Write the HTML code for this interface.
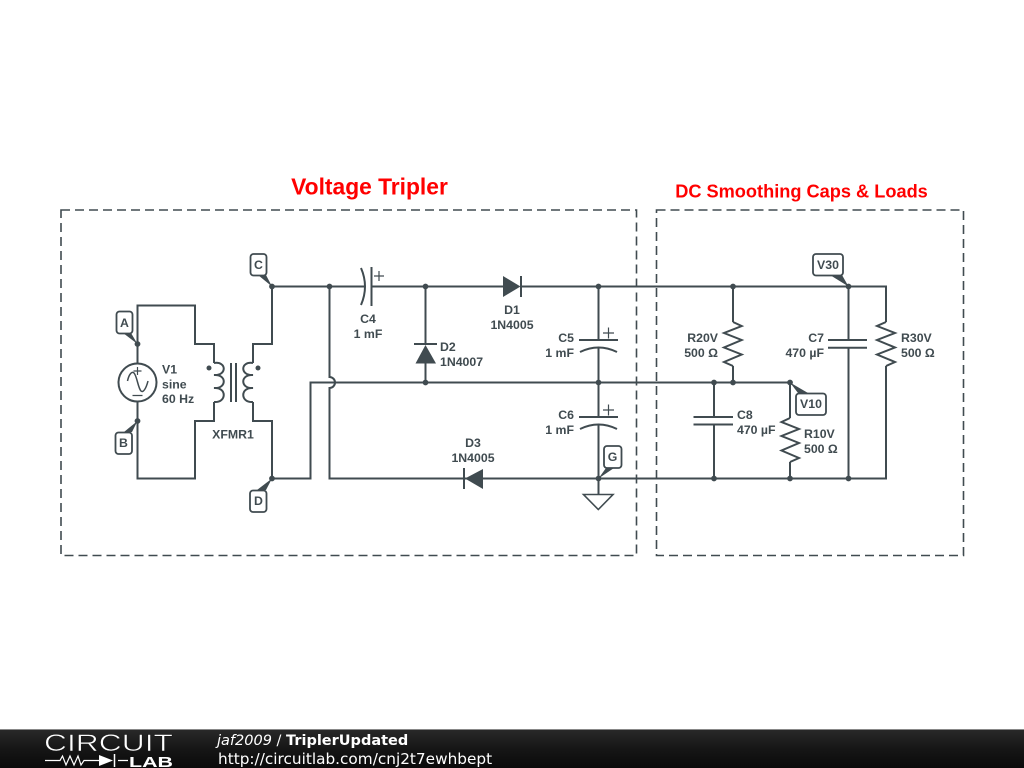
<!DOCTYPE html>
<html><head><meta charset="utf-8"><title>TriplerUpdated</title>
<style>html,body{margin:0;padding:0;background:#fff}svg{display:block}
.t{font:bold 12.3px "Liberation Sans",Arial,sans-serif;fill:#404b50}
.m{text-anchor:middle}.e{text-anchor:end}
.tag{font:bold 12.3px "Liberation Sans",Arial,sans-serif;fill:#404b50;text-anchor:middle}
</style></head><body>
<svg width="1024" height="768" viewBox="0 0 1024 768" xmlns="http://www.w3.org/2000/svg">
<defs><linearGradient id="g" x1="0" y1="0" x2="0" y2="1"><stop offset="0" stop-color="#2a2a2a"/><stop offset=".5" stop-color="#161616"/><stop offset="1" stop-color="#0a0a0a"/></linearGradient></defs>
<rect width="1024" height="768" fill="#fff"/>
<text x="369.500" y="194.500" text-anchor="middle" font-family="Liberation Sans" font-weight="bold" font-size="22.800" fill="#f00">Voltage Tripler</text>
<text x="801.500" y="197.500" text-anchor="middle" font-family="Liberation Sans" font-weight="bold" font-size="18.200" fill="#f00">DC Smoothing Caps &amp; Loads</text>
<g fill="none" stroke="#404b50" stroke-width="1.600" stroke-dasharray="9 5">
<rect x="61" y="210" width="575.500" height="345.500"/><rect x="656.500" y="210" width="307" height="345.500"/></g>
<g fill="none" stroke="#404b50" stroke-width="2">
<path d="M137.500 363V305.500H195V344H214V363M214 402V421H195V478.500H137.500V402"/>
<path d="M253 363V344H272V286.500H365M371 286.500H503M521 286.500H886V322M886 366V478.500H329.500V388A5.500 5.500 0 0 0 329.500 377V286.500"/>
<path d="M253 402V421H272V478.500H310.500V382.500H733M733 382.500H790V418M790 462V478.500"/>
<path d="M425.500 286.500V345M425.500 363V382.500"/>
<path d="M598.500 286.500V340M598.500 348V417M598.500 425V494"/>
<path d="M733 286.500V322M733 366V382.500"/>
<path d="M848.500 286.500V340M848.500 348V478.500"/>
<path d="M714 382.500V417M714 424.500V478.500"/>
<circle cx="137.500" cy="382.500" r="19"/>
<path d="M127.500 381C129 374 132 371 134 373C137 376 138 388 141 391C143 393 146 389 148 381" stroke-width="1.500"/>
<path d="M137.500 367v8M133.500 371h8M132.500 395.500h10" stroke-width="1.200"/>
<path d="M214 363C227 361 227 376 214 375C227 374 227 389 214 388C227 387 227 403 214 402"/>
<path d="M253 363C240 361 240 376 253 375C240 374 240 389 253 388C240 387 240 403 253 402"/>
<path d="M231 363V402M236 363V402"/>
<path d="M361 268Q369 286.500 361 305M371.500 267V306"/>
<path d="M374 276h10M379 271v10" stroke-width="1.200"/>
<path d="M521 276V297M414 344H437M464 468V489"/>
<path d="M579 340H618M580 352Q598.500 343 617 352M579 417H618M580 429Q598.500 420 617 429"/>
<path d="M603 333h11M608.500 327.500v11M603 410h11M608.500 404.500v11" stroke-width="1.200"/>
<path d="M583.500 494.500H613L598.300 509.500Z" stroke-width="1.600"/>
<path d="M733 322L741.700 326L724 333L741.700 340L724 347.500L741.700 354.500L724 362L733 366"/>
<path d="M886 322L877 326L895 333L877 340L895 347.500L877 354.500L895 362L886 366"/>
<path d="M790 418L781.500 422L799 429L781.500 436L799 443L781.500 450.500L799 458L790 462"/>
<path d="M828 340H867M828 347.700H867M693.500 417H733M693.500 424.500H733"/>
</g>
<g fill="#404b50">
<path d="M503 276L520.500 286.500L503 297Z"/>
<path d="M425.500 345L436 363.500H415.500Z"/>
<path d="M465 478.500L483 469V489Z"/>
<circle cx="209" cy="368" r="2.500"/><circle cx="258" cy="368" r="2.500"/>
<circle cx="272" cy="286.500" r="2.900"/><circle cx="329.500" cy="286.500" r="2.900"/><circle cx="425.500" cy="286.500" r="2.900"/><circle cx="598.500" cy="286.500" r="2.900"/><circle cx="733" cy="286.500" r="2.900"/><circle cx="848.500" cy="286.500" r="2.900"/><circle cx="137.500" cy="344" r="2.900"/><circle cx="137.500" cy="421" r="2.900"/><circle cx="272" cy="478.500" r="2.900"/><circle cx="425.500" cy="382.500" r="2.900"/><circle cx="598.500" cy="382.500" r="2.900"/><circle cx="714" cy="382.500" r="2.900"/><circle cx="733" cy="382.500" r="2.900"/><circle cx="790" cy="382.500" r="2.900"/><circle cx="598.500" cy="478.500" r="2.900"/><circle cx="714" cy="478.500" r="2.900"/><circle cx="790" cy="478.500" r="2.900"/><circle cx="848.500" cy="478.500" r="2.900"/>
<path d="M123 333L131 333L137.500 344Z"/>
<path d="M124 432L132 432L137.500 421Z"/>
<path d="M258 275L266 275L272 286.500Z"/>
<path d="M257 490L266 490L272 478.500Z"/>
<path d="M606 468L614 468L598.500 478.500Z"/>
<path d="M830 275L842 275L848.500 286.500Z"/>
<path d="M798 393L808 393L790 382.500Z"/>
</g>
<g fill="#fff" stroke="#404b50" stroke-width="1.800">
<rect x="116.500" y="311.500" width="16" height="22" rx="3"/>
<rect x="115.500" y="432.500" width="16.500" height="21.500" rx="3"/>
<rect x="250.500" y="254" width="16" height="21.500" rx="3"/>
<rect x="250" y="490.500" width="16.500" height="21.500" rx="3"/>
<rect x="604" y="446" width="17.500" height="22" rx="3"/>
<rect x="813" y="254" width="30" height="21.500" rx="3"/>
<rect x="796" y="393.500" width="30" height="21.500" rx="3"/>
</g>
<text class="tag" x="124.500" y="327">A</text><text class="tag" x="123.500" y="447">B</text>
<text class="tag" x="258.500" y="269">C</text><text class="tag" x="258.500" y="505">D</text>
<text class="tag" x="612.500" y="461">G</text><text class="tag" x="828" y="269">V30</text><text class="tag" x="811" y="408">V10</text>
<text class="t" x="162" y="373.500">V1</text><text class="t" x="162" y="388.500">sine</text><text class="t" x="162" y="403">60 Hz</text>
<text class="t m" x="233" y="438.500">XFMR1</text>
<text class="t m" x="368" y="323">C4</text><text class="t m" x="368" y="338">1 mF</text>
<text class="t" x="440" y="351">D2</text><text class="t" x="440" y="366">1N4007</text>
<text class="t m" x="512" y="314">D1</text><text class="t m" x="512" y="329">1N4005</text>
<text class="t e" x="574" y="342">C5</text><text class="t e" x="574" y="357">1 mF</text>
<text class="t e" x="574" y="419">C6</text><text class="t e" x="574" y="434">1 mF</text>
<text class="t m" x="473" y="447">D3</text><text class="t m" x="473" y="462">1N4005</text>
<text class="t e" x="718" y="342">R20V</text><text class="t e" x="718" y="357">500 Ω</text>
<text class="t e" x="824" y="342">C7</text><text class="t e" x="824" y="357">470 µF</text>
<text class="t" x="901" y="342">R30V</text><text class="t" x="901" y="357">500 Ω</text>
<text class="t" x="737" y="419">C8</text><text class="t" x="737" y="434">470 µF</text>
<text class="t" x="804" y="438">R10V</text><text class="t" x="804" y="453">500 Ω</text>
<rect y="729" width="1024" height="39" fill="url(#g)"/>
<rect y="729" width="1024" height="1" fill="#888"/>
<text x="44" y="751" font-family="Liberation Sans" font-size="24.500" fill="#fff" stroke="#1a1a1a" stroke-width=".6" textLength="129" lengthAdjust="spacingAndGlyphs">CIRCUIT</text>
<path d="M45 760.500H60L62.500 756L66 765L70 756L74 765L78 756L81 765L84 760.500H99M118 760.500H128" fill="none" stroke="#fff" stroke-width="1.200"/>
<path d="M99 755L113 760.500L99 766Z" fill="#fff"/><path d="M114.500 754V767" stroke="#fff" stroke-width="1.500"/>
<text x="129" y="767" font-family="Liberation Sans" font-weight="bold" font-size="15" fill="#fff" textLength="44" lengthAdjust="spacingAndGlyphs">LAB</text>
<text x="217" y="745" font-family="DejaVu Sans" font-size="14.500" fill="#fff"><tspan font-style="italic">jaf2009</tspan> / <tspan font-weight="bold">TriplerUpdated</tspan></text>
<text x="218" y="764" font-family="DejaVu Sans" font-size="15.300" fill="#fff">http://circuitlab.com/cnj2t7ewhbept</text>
</svg>
</body></html>
